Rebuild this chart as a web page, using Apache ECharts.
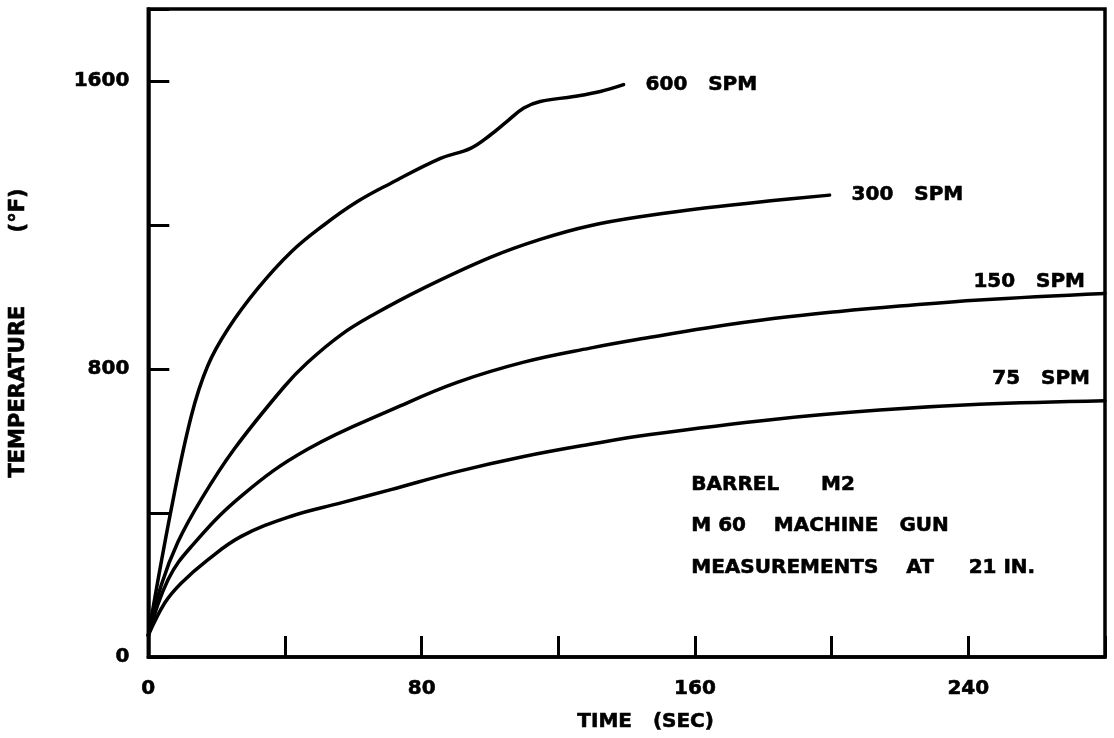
<!DOCTYPE html>
<html>
<head>
<meta charset="utf-8">
<script src="https://cdn.jsdelivr.net/npm/echarts@6/dist/echarts.min.js"></script>
<style>
html,body{margin:0;padding:0;background:#fff;}
#chart{width:1114px;height:738px;}
</style>
</head>
<body>
<div id="chart"></div>
<script>
// Data (time in s, temperature in °F)
const spm600 = [[0,60],[6.7,410],[12.6,670],[17.4,809],[23.3,911],[32,1023],[41.8,1125],[51.4,1200],[61.2,1265],[71,1316],[85.5,1385],[94.3,1413],[100.1,1450],[105,1488],[109.9,1525],[114.7,1543],[124.5,1557],[132.3,1571],[139.1,1590]];
const spm300 = [[0,60],[3.8,200],[8.7,320],[15.5,438],[25.1,577],[39.7,750],[46.6,818],[56.4,895],[66.1,952],[80,1022],[100.1,1110],[114.7,1160],[129.3,1198],[146.9,1227],[163.4,1248],[182.9,1268],[199.4,1283]];
const spm150 = [[0,60],[5.8,215],[12.6,307],[27.2,447],[46.6,577],[73.9,698],[90.4,763],[109.9,819],[129.3,858],[146.9,888],[163.4,914],[182.9,940],[202.3,960],[219.9,975],[243.2,992],[280,1010]];
const spm75 = [[0,60],[4.8,150],[9.6,205],[17.4,270],[27.2,335],[41.8,391],[56.4,428],[71,465],[90.4,515],[109.9,557],[129.3,591],[146.9,618],[182.9,660],[214,686],[243.2,702],[280,712]];
const seriesNames = ['600   SPM','300   SPM','150   SPM','75   SPM'];
const xLabelTicks = [0,80,160,240];
const yLabelTicks = [0,800,1600];
const noteLines = ['BARREL      M2','M 60    MACHINE   GUN','MEASUREMENTS    AT     21 IN.'];

const FONT = '"DejaVu Sans", sans-serif';
const txt = {fontFamily: FONT, fontWeight: 'bold', fontSize: 20, color: '#000', textBorderColor: '#000', textBorderWidth: 0.6};

const chart = echarts.init(document.getElementById('chart'));
function lineSeries(name, data, endLabel){
  return {
    name: name, type: 'line', data: data, showSymbol: false, symbol: 'none',
    smooth: 0.4,
    lineStyle: {color: '#000', width: 3.5, join: 'round', cap: 'round'},
    endLabel: Object.assign({show: true, formatter: name}, txt, endLabel),
    animation: false
  };
}
chart.setOption({
  backgroundColor: '#fff',
  animation: false,
  grid: {left: 147, right: 9, top: 9, bottom: 81, show: true, borderColor: '#000', borderWidth: 3.5},
  xAxis: {
    type: 'value', min: 0, max: 280, interval: 40,
    axisLine: {show: true, lineStyle: {color: '#000', width: 3.5}},
    axisTick: {show: true, inside: true, length: 21, lineStyle: {color: '#000', width: 3}},
    axisLabel: Object.assign({margin: 22, formatter: v => xLabelTicks.includes(v) ? String(v) : ''}, txt),
    splitLine: {show: false},
    name: 'TIME   (SEC)', nameLocation: 'middle', nameGap: 55,
    nameTextStyle: Object.assign({padding: [0,0,0,38]}, txt)
  },
  yAxis: {
    type: 'value', min: 0, max: 1800, interval: 400,
    axisLine: {show: true, lineStyle: {color: '#000', width: 3.5}},
    axisTick: {show: true, inside: true, length: 21, lineStyle: {color: '#000', width: 3}},
    axisLabel: Object.assign({margin: 19, formatter: v => yLabelTicks.includes(v) ? String(v) : ''}, txt),
    splitLine: {show: false},
    name: 'TEMPERATURE          (°F)', nameLocation: 'middle', nameGap: 119,
    nameTextStyle: Object.assign({}, txt, {fontSize: 21})
  },
  series: [
    lineSeries(seriesNames[0], spm600, {distance: 22}),
    lineSeries(seriesNames[1], spm300, {distance: 22}),
    lineSeries(seriesNames[2], spm150, {distance: 0, align: 'right', verticalAlign: 'middle', offset: [-20, -12]}),
    lineSeries(seriesNames[3], spm75, {distance: 0, align: 'right', verticalAlign: 'middle', offset: [-15, -22]})
  ],
  graphic: noteLines.map((t, i) => ({
    type: 'text', left: 691, top: [474, 515, 557][i], silent: true,
    style: {text: t, font: 'bold 20px ' + FONT, fill: '#000', stroke: '#000', lineWidth: 0.6}
  }))
});
</script>
</body>
</html>
